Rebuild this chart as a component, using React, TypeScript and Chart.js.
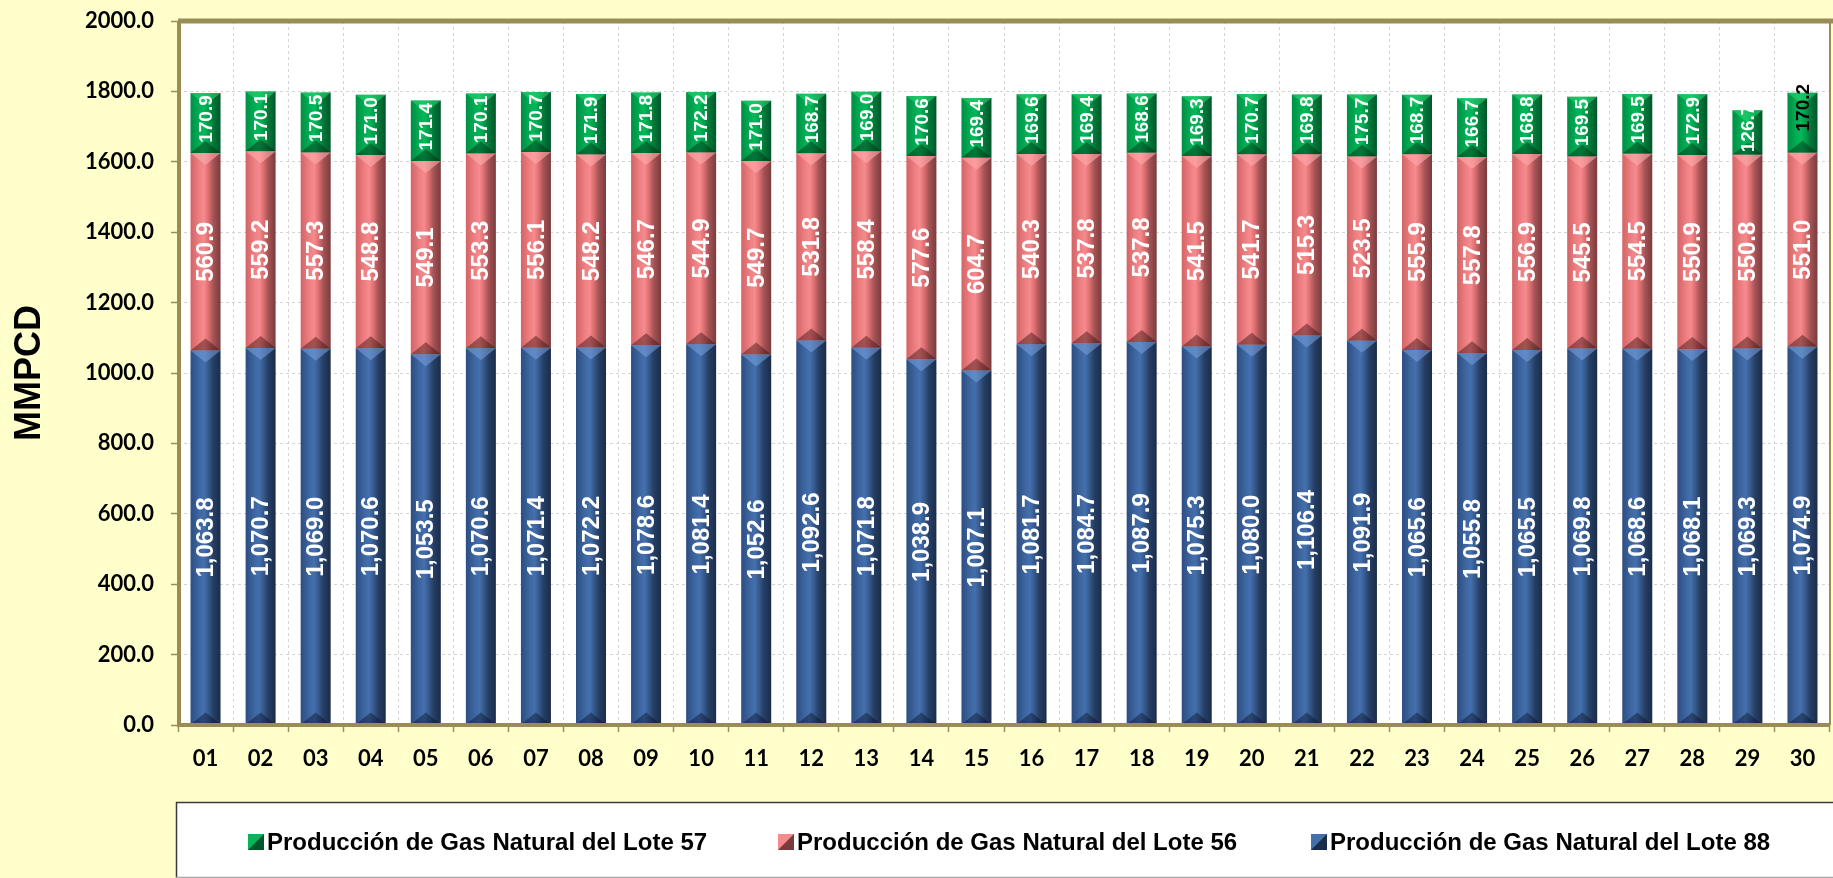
import React, { useEffect, useRef } from "react";
import { Chart, registerables } from "chart.js";

Chart.register(...registerables);

// ---------- DATA ----------
const days = [
  "01", "02", "03", "04", "05", "06", "07", "08", "09", "10",
  "11", "12", "13", "14", "15", "16", "17", "18", "19", "20",
  "21", "22", "23", "24", "25", "26", "27", "28", "29", "30",
];

const lote88 = [
  1063.8, 1070.7, 1069.0, 1070.6, 1053.5, 1070.6, 1071.4, 1072.2, 1078.6, 1081.4,
  1052.6, 1092.6, 1071.8, 1038.9, 1007.1, 1081.7, 1084.7, 1087.9, 1075.3, 1080.0,
  1106.4, 1091.9, 1065.6, 1055.8, 1065.5, 1069.8, 1068.6, 1068.1, 1069.3, 1074.9,
];

const lote56 = [
  560.9, 559.2, 557.3, 548.8, 549.1, 553.3, 556.1, 548.2, 546.7, 544.9,
  549.7, 531.8, 558.4, 577.6, 604.7, 540.3, 537.8, 537.8, 541.5, 541.7,
  515.3, 523.5, 555.9, 557.8, 556.9, 545.5, 554.5, 550.9, 550.8, 551.0,
];

const lote57 = [
  170.9, 170.1, 170.5, 171.0, 171.4, 170.1, 170.7, 171.9, 171.8, 172.2,
  171.0, 168.7, 169.0, 170.6, 169.4, 169.6, 169.4, 168.6, 169.3, 170.7,
  169.8, 175.7, 168.7, 166.7, 168.8, 169.5, 169.5, 172.9, 126.7, 170.2,
];

const seriesNames = [
  "Producción de Gas Natural del Lote 88",
  "Producción de Gas Natural del Lote 56",
  "Producción de Gas Natural del Lote 57",
];

const yAxisTitle = "MMPCD";
const yMin = 0;
const yMax = 2000;
const yStep = 200;

// ---------- STYLE ----------
const W = 1833;
const H = 878;
const OLIVE = "#9A8C55";
const PAGE_BG = "#FFFFCC";
const GRID = "#D4D4D4";
const BAR_PCT = 0.545;
const ARIAL = "'Liberation Sans', Arial, sans-serif";
const TICK_FONT = "Lato, 'Open Sans', sans-serif";

type Pal = { stops: [number, string][]; light: string; dark: string; solid: string };

const palettes: Pal[] = [
  {
    solid: "#34598F",
    stops: [[0, "#2C4D80"], [0.3, "#3E67A2"], [0.45, "#4470AE"], [0.6, "#36598C"], [0.75, "#263F66"], [1, "#1B2C48"]],
    light: "rgba(120,160,220,0.55)",
    dark: "rgba(10,20,40,0.45)",
  },
  {
    solid: "#E07072",
    stops: [[0, "#D26466"], [0.3, "#EE8083"], [0.45, "#F68A8C"], [0.6, "#DC6E70"], [0.75, "#A75456"], [1, "#7A3B3D"]],
    light: "rgba(255,170,172,0.6)",
    dark: "rgba(60,15,15,0.45)",
  },
  {
    solid: "#00A04C",
    stops: [[0, "#008E44"], [0.3, "#00AE55"], [0.45, "#00B85A"], [0.6, "#009E4C"], [0.75, "#007A39"], [1, "#00572A"]],
    light: "rgba(40,210,110,0.6)",
    dark: "rgba(0,40,15,0.45)",
  },
];

const labelFonts = [`bold 24px ${ARIAL}`, `bold 24px ${ARIAL}`, `bold 19px ${ARIAL}`];
const labelDy = [0, 0, -4];
const legendOrder = [2, 1, 0];
const legendMarkerX = [248, 778, 1311];

function fmt(v: number): string {
  return v.toLocaleString("en-US", { minimumFractionDigits: 1, maximumFractionDigits: 1 });
}

function barGradient(chart: any, index: number, pal: Pal): any {
  const xs = chart.scales?.x;
  if (!xs || !chart.chartArea || index === undefined) return pal.solid;
  const cx = xs.getPixelForValue(index);
  const w = (xs.width / days.length) * BAR_PCT;
  const g = chart.ctx.createLinearGradient(cx - w / 2, 0, cx + w / 2, 0);
  pal.stops.forEach(([o, c]) => g.addColorStop(o, c));
  return g;
}

const decorPlugin = {
  id: "decor",
  beforeDraw(chart: any) {
    const { ctx, chartArea: a } = chart;
    ctx.save();
    ctx.fillStyle = "#FFFFFF";
    ctx.fillRect(a.left, a.top, a.right - a.left, a.bottom - a.top);
    ctx.restore();
  },
  afterDatasetsDraw(chart: any) {
    const { ctx, chartArea: a } = chart;
    ctx.save();
    // bevels
    chart.data.datasets.forEach((_ds: any, di: number) => {
      const meta = chart.getDatasetMeta(di);
      const pal = palettes[di];
      meta.data.forEach((el: any) => {
        const { x, y, base, width } = el.getProps(["x", "y", "base", "width"], true);
        const left = x - width / 2;
        const right = x + width / 2;
        const top = Math.min(y, base);
        const bottom = Math.max(y, base);
        const d = Math.min(12, (bottom - top) / 3);
        ctx.fillStyle = pal.light;
        ctx.beginPath();
        ctx.moveTo(left, top);
        ctx.lineTo(right, top);
        ctx.lineTo(x, top + d);
        ctx.closePath();
        ctx.fill();
        ctx.fillStyle = pal.dark;
        ctx.beginPath();
        ctx.moveTo(left, bottom);
        ctx.lineTo(right, bottom);
        ctx.lineTo(x, bottom - d);
        ctx.closePath();
        ctx.fill();
      });
    });
    // frame
    ctx.strokeStyle = OLIVE;
    ctx.lineWidth = 5;
    ctx.beginPath();
    ctx.moveTo(a.left, a.top);
    ctx.lineTo(W, a.top);
    ctx.stroke();
    ctx.lineWidth = 4;
    ctx.beginPath();
    ctx.moveTo(a.left + 1, a.top);
    ctx.lineTo(a.left + 1, a.bottom);
    ctx.moveTo(a.left - 1, a.bottom);
    ctx.lineTo(a.right, a.bottom);
    ctx.stroke();
    ctx.lineWidth = 2;
    ctx.beginPath();
    ctx.moveTo(a.right, a.top);
    ctx.lineTo(a.right, a.bottom);
    ctx.stroke();
    // value labels
    ctx.textAlign = "center";
    ctx.textBaseline = "middle";
    chart.data.datasets.forEach((ds: any, di: number) => {
      const meta = chart.getDatasetMeta(di);
      meta.data.forEach((el: any, i: number) => {
        const { x, y, base } = el.getProps(["x", "y", "base"], true);
        let cy = (y + base) / 2 + labelDy[di];
        let color = "#FFFFFF";
        if (di === 2 && i === days.length - 1) {
          color = "#000000";
          cy -= 11;
        }
        ctx.save();
        ctx.translate(x, cy);
        ctx.rotate(-Math.PI / 2);
        ctx.font = labelFonts[di];
        ctx.fillStyle = color;
        ctx.fillText(fmt(ds.data[i]), 0, 1);
        ctx.restore();
      });
    });
    ctx.restore();
  },
  afterDraw(chart: any) {
    const { ctx } = chart;
    ctx.save();
    // legend box
    const bx = 176.5, by = 802.5, bw = W - bx + 4, bh = 75;
    ctx.fillStyle = "#FFFFFF";
    ctx.fillRect(bx, by, bw, bh);
    ctx.lineWidth = 1.5;
    ctx.strokeStyle = "#3A3A3A";
    ctx.beginPath();
    ctx.moveTo(bx, by + bh);
    ctx.lineTo(bx, by);
    ctx.lineTo(W, by);
    ctx.stroke();
    ctx.strokeStyle = "#A8A8A8";
    ctx.beginPath();
    ctx.moveTo(bx, by + bh);
    ctx.lineTo(W, by + bh);
    ctx.stroke();
    // legend items
    ctx.font = `bold 24px ${ARIAL}`;
    ctx.textAlign = "left";
    ctx.textBaseline = "alphabetic";
    legendOrder.forEach((di, k) => {
      const pal = palettes[di];
      const mx = legendMarkerX[k];
      const my = 834;
      const s = 16;
      ctx.fillStyle = pal.stops[2][1];
      ctx.fillRect(mx, my, s, s);
      ctx.fillStyle = pal.stops[5][1];
      ctx.beginPath();
      ctx.moveTo(mx + s, my);
      ctx.lineTo(mx + s, my + s);
      ctx.lineTo(mx, my + s);
      ctx.closePath();
      ctx.fill();
      ctx.fillStyle = "#000000";
      ctx.fillText(chart.data.datasets[di].label, mx + s + 3, my + s);
    });
    ctx.restore();
  },
};

export default function App() {
  const ref = useRef<HTMLCanvasElement | null>(null);

  useEffect(() => {
    document.body.style.margin = "0";
    const canvas = ref.current;
    if (!canvas) return;
    const series = [lote88, lote56, lote57];
    const chart = new Chart(canvas, {
      type: "bar",
      data: {
        labels: days,
        datasets: series.map((values, di) => ({
          label: seriesNames[di],
          data: values,
          backgroundColor: (c: any) => barGradient(c.chart, c.dataIndex, palettes[di]),
          borderWidth: 0,
          barPercentage: BAR_PCT,
          categoryPercentage: 1,
        })),
      },
      options: {
        responsive: false,
        animation: false,
        devicePixelRatio: 1,
        layout: { padding: { top: 21, right: 3, bottom: 93, left: 0 } },
        plugins: {
          legend: { display: false },
          tooltip: { enabled: false },
        },
        scales: {
          x: {
            stacked: true,
            afterFit: (s: any) => {
              s.height = 60;
              s.paddingLeft = 0;
              s.paddingRight = 0;
            },
            grid: {
              color: GRID,
              lineWidth: 1,
              offset: true,
              drawTicks: true,
              tickLength: 7,
              tickColor: OLIVE,
              tickWidth: 1.5,
            },
            border: { display: false, dash: [3, 3] },
            ticks: {
              color: "#000000",
              padding: 14,
              font: { family: TICK_FONT, weight: "bold", size: 22 },
              maxRotation: 0,
              autoSkip: false,
            },
          },
          y: {
            stacked: true,
            min: yMin,
            max: yMax,
            afterFit: (s: any) => {
              s.width = 178;
              s.paddingTop = 0;
              s.paddingBottom = 0;
            },
            grid: {
              color: GRID,
              lineWidth: 1,
              drawTicks: true,
              tickLength: 7,
              tickColor: OLIVE,
              tickWidth: 1.5,
            },
            border: { display: false, dash: [3, 3] },
            ticks: {
              stepSize: yStep,
              color: "#000000",
              padding: 17,
              font: { family: TICK_FONT, weight: "bold", size: 22 },
              callback: (v: any) => Number(v).toFixed(1),
            },
            title: {
              display: true,
              text: yAxisTitle,
              color: "#000000",
              font: { family: ARIAL, weight: "bold", size: 36 },
              padding: { top: 8, bottom: 0 },
            },
          },
        },
      },
      plugins: [decorPlugin],
    } as any);
    return () => chart.destroy();
  }, []);

  return (
    <div style={{ position: "fixed", left: 0, top: 0, width: W, height: H, background: PAGE_BG }}>
      <canvas ref={ref} width={W} height={H} style={{ display: "block", width: W, height: H }} />
    </div>
  );
}
